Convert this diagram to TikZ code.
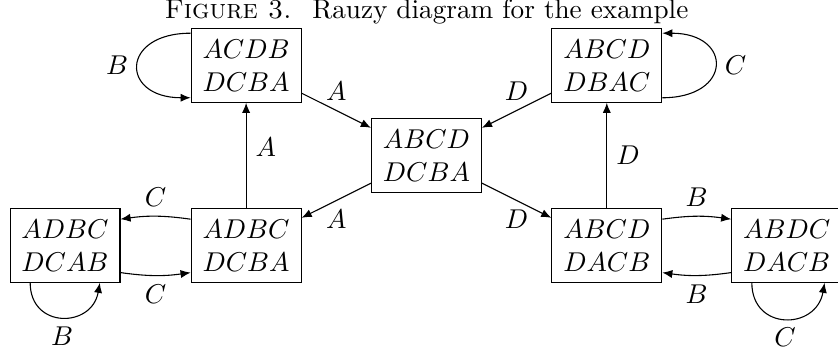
\documentclass[tikz,border=0pt]{standalone}
\usepackage{tikz}
\usetikzlibrary{arrows.meta}
\usepackage{amsmath, amssymb}

\begin{document}
\begin{tikzpicture}[>={Latex[length=3.7pt, width=3pt]}, perm/.style={draw, minimum width=1.42cm, minimum height=0.95cm, align=center}]
        \useasboundingbox (-5.51, -2.526) rectangle (5.317, 2.009);
        % Caption
        \node[anchor=base] (cap) at (0, 1.773) {\textsc{Figure 3.}\hspace{0.75em}Rauzy diagram for the example};

        % Draw the permutations
        \node[perm] (mid) at (0, 0) {$ABCD$\\$DCBA$};
        \node[perm] (tl) at (-2.33, 1.163) {$ACDB$\\$DCBA$};
        \node[perm] (tr) at (2.33, 1.163) {$ABCD$\\$DBAC$};
        \node[perm] (bl) at (-4.67, -1.163) {$ADBC$\\$DCAB$};
        \node[perm] (bml) at (-2.33, -1.163) {$ADBC$\\$DCBA$};
        \node[perm] (bmr) at (2.33, -1.163) {$ABCD$\\$DACB$};
        \node[perm] (br) at (4.654, -1.163) {$ABDC$\\$DACB$};

        % Draw the straight arrows
        \draw[->] (tl) -- node[above] {$A$} (mid);
        \draw[->] (tr) -- node[above] {$D$} (mid);
        \draw[->] (mid) -- node[below] {$A$} (bml);
        \draw[->] (mid) -- node[below] {$D$} (bmr);
        \draw[->] (bml) -- node[right, pos=0.58] {$A$} (tl);
        \draw[->] (bmr) -- node[right] {$D$} (tr);

        % Draw the bent arrows
        \draw[->] ([yshift=0.34cm]bml.west) to[bend right=8] node[above] {$C$} ([yshift=0.34cm]bl.east);
        \draw[->] ([yshift=-0.35cm]bl.east) to[bend right=8] node[below] {$C$} ([yshift=-0.35cm]bml.west);
        \draw[->] ([yshift=0.34cm]bmr.east) to[bend left=8] node[above] {$B$} ([yshift=0.34cm]br.west);
        \draw[->] ([yshift=-0.35cm]br.west) to[bend left=8] node[below] {$B$} ([yshift=-0.35cm]bmr.east);

        % Draw the loops
        \draw[->] ([yshift=-0.065cm]tl.north west) to[out=180, in=180, looseness=2.8] node[left] {$B$} ([yshift=0.065cm]tl.south west);
        \draw[->] ([yshift=0.065cm]tr.south east) to[out=0, in=0, looseness=2.8] node[right] {$C$} ([yshift=-0.065cm]tr.north east);
        \draw[->] ([xshift=-0.45cm]bl.south) to[out=-90, in=-100, looseness=1.7] node[below] {$B$} ([xshift=0.45cm]bl.south);
        \draw[->] ([xshift=-0.45cm]br.south) to[out=-90, in=-100, looseness=1.7] node[below] {$C$} ([xshift=0.49cm]br.south);
    \end{tikzpicture}
\end{document}
